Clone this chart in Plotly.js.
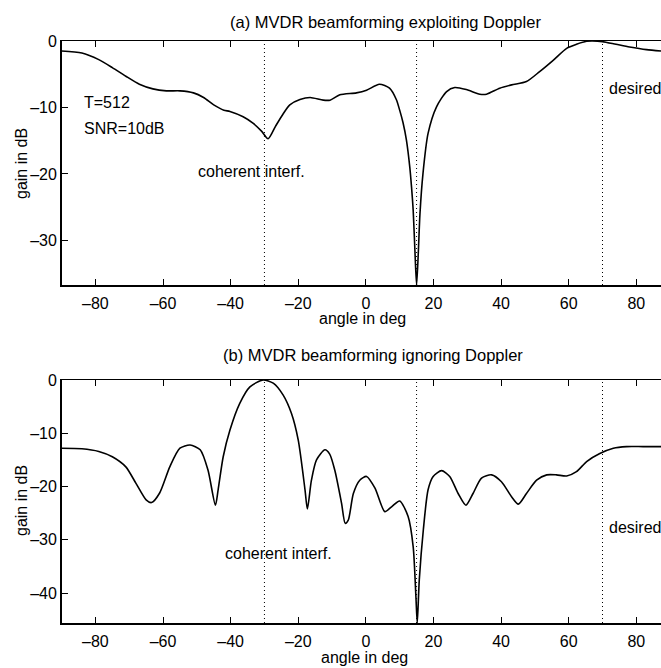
<!DOCTYPE html>
<html>
<head>
<meta charset="utf-8">
<script src="https://cdn.plot.ly/plotly-3.0.1.min.js"></script>
<style>html,body{margin:0;padding:0;background:#fff;}#chart{width:661px;height:668px;}</style>
</head>
<body>
<div id="chart"></div>
<script>
// (a) MVDR beamforming exploiting Doppler
const angleA = [-90,-84,-79,-75,-71,-67,-63,-59,-55,-51,-48,-45,-42,-40.2,-36.3,-33.3,-30.8,-28.9,-26.7,-24.4,-22.5,-19.5,-16.5,-12.6,-10.6,-7.7,-2.8,0.2,4,7,9,10,11,12,13,13.5,14,14.5,15,15.5,16,16.9,18.4,20.9,23.9,26.3,29.7,33.7,35.7,39.6,43.1,47.5,51.4,55.4,59.4,62.3,65.3,67,70,74,78,83,87.3];
const gainA = [-1.5,-1.8,-2.8,-4.0,-5.3,-6.5,-7.2,-7.5,-7.5,-7.8,-8.5,-9.6,-10.4,-10.6,-11.4,-12.4,-13.6,-14.7,-12.8,-10.9,-9.6,-8.8,-8.5,-8.9,-8.9,-8.1,-7.8,-7.4,-6.5,-7.1,-8.8,-10.4,-12.3,-14.9,-19.0,-21.9,-25.5,-31.4,-36.7,-32.0,-26.0,-19.9,-13.9,-9.9,-7.6,-7.0,-7.3,-8.0,-8.0,-7.1,-6.6,-6.1,-4.6,-2.9,-1.1,-0.5,-0.05,0,-0.1,-0.5,-0.9,-1.3,-1.5];

// (b) MVDR beamforming ignoring Doppler
const angleB = [-90,-84,-79,-75,-71,-68,-65,-63.4,-61,-58,-55,-52,-49,-46.7,-44.5,-43.7,-42.2,-40.2,-37.3,-34.3,-30.4,-27.4,-24.5,-22,-20,-18,-17.3,-16.1,-14.6,-12.1,-10.7,-9.2,-7.2,-6.1,-5.2,-3.7,-1.8,0.2,2.7,5.6,7.6,10,12.5,14,14.8,15.2,15.8,17,18.4,19.9,22.4,24.8,27.3,29.6,31.7,34.2,37.2,40.1,43.1,45.1,47.5,50.5,53.5,56.4,59.4,62.3,65.3,69.2,73.2,77.1,82,87.3];
const gainB = [-12.8,-12.9,-13.4,-14.4,-16.3,-19.4,-22.5,-23.0,-21.2,-16.3,-12.8,-12.2,-13.1,-16.9,-23.5,-20.6,-14.4,-9.4,-4.4,-1.3,0,-0.6,-2.8,-6.3,-11.3,-20.6,-24.2,-18.8,-15.0,-13.1,-13.9,-16.9,-23.1,-26.9,-26.3,-21.3,-18.8,-18.1,-20.3,-24.7,-23.8,-22.7,-25.6,-31.3,-40.6,-45.6,-37.5,-28.1,-20.6,-18.1,-17.0,-18.1,-21.3,-23.5,-21.3,-18.4,-17.8,-19.1,-21.9,-23.3,-21.3,-18.8,-17.8,-17.8,-18.0,-17.2,-15.3,-13.8,-12.8,-12.5,-12.5,-12.5];

// reference directions (dotted lines)
const markAngles = [-30, 15, 70];
const xTicks = [-80,-60,-40,-20,0,20,40,60,80];
const yTicksA = [-30,-20,-10,0];
const yTicksB = [-40,-30,-20,-10,0];
const titleA = "(a) MVDR beamforming exploiting Doppler";
const titleB = "(b) MVDR beamforming ignoring Doppler";
const xTitle = "angle in deg";
const yTitle = "gain in dB";

const FONT = "Liberation Sans, Arial, Helvetica, sans-serif";
const W = 661, H = 668;
const xDom = [61.6 / W, 1];
const yDomA = [1 - 285 / H, 1 - 41 / H];
const yDomB = [1 - 623 / H, 1 - 380 / H];

const lineStyle = {color: "#000", width: 1.6, shape: "spline", smoothing: 0.7};
const traces = [
  {x: angleA, y: gainA, xaxis: "x", yaxis: "y", mode: "lines", line: lineStyle, showlegend: false, hoverinfo: "skip"},
  {x: angleB, y: gainB, xaxis: "x2", yaxis: "y2", mode: "lines", line: lineStyle, showlegend: false, hoverinfo: "skip"}
];

const dash = v => v < 0 ? "\u2013" + Math.abs(v) : String(v);
function xAxis(anchor) {
  return {
    domain: xDom, anchor: anchor, range: [-90, 87.3],
    tickmode: "array", tickvals: xTicks, ticktext: xTicks.map(dash),
    ticks: "inside", ticklen: 6, tickwidth: 1, tickcolor: "#000",
    showline: true, linecolor: "#000", linewidth: 1.5, mirror: "ticks",
    showgrid: false, zeroline: false, ticklabelstandoff: 3,
    tickfont: {family: FONT, size: 16, color: "#000"}
  };
}
function yAxis(anchor, dom, range, ticks) {
  return {
    domain: dom, anchor: anchor, range: range,
    tickmode: "array", tickvals: ticks, ticktext: ticks.map(dash),
    ticks: "inside", ticklen: 6, tickwidth: 1, tickcolor: "#000",
    showline: true, linecolor: "#000", linewidth: 1.5, mirror: false,
    showgrid: false, zeroline: false, ticklabelstandoff: 0,
    tickfont: {family: FONT, size: 16, color: "#000"}
  };
}

const shapes = [];
[["x", "y"], ["x2", "y2"]].forEach(([xr, yr]) => {
  markAngles.forEach(a => shapes.push({
    type: "line", xref: xr, yref: yr + " domain", x0: a, x1: a, y0: 0, y1: 1,
    line: {color: "#000", width: 1, dash: "1px,3px"}
  }));
});

const annFont = {family: FONT, size: 16, color: "#000"};
const ttlFont = {family: FONT, size: 16.5, color: "#000"};
const P = (t, px, py, extra) => Object.assign({xref: "paper", yref: "paper", x: px / W, y: 1 - py / H, text: t, showarrow: false, font: annFont, xanchor: "center", yanchor: "middle"}, extra || {});
const annotations = [
  P(titleA, 385, 22, {font: ttlFont}),
  P(titleB, 373, 355, {font: ttlFont}),
  P(xTitle, 362, 318),
  P(xTitle, 365, 657),
  P(yTitle, 21, 164, {textangle: -90}),
  P(yTitle, 21, 501, {textangle: -90}),
  {xref: "x", yref: "y", x: -84, y: -9.2, text: "T=512", showarrow: false, font: annFont, xanchor: "left", yanchor: "middle"},
  {xref: "x", yref: "y", x: -84, y: -13.1, text: "SNR=10dB", showarrow: false, font: annFont, xanchor: "left", yanchor: "middle"},
  {xref: "x", yref: "y", x: -33.9, y: -19.7, text: "coherent interf.", showarrow: false, font: annFont, xanchor: "center", yanchor: "middle"},
  {xref: "x", yref: "y", x: 71.3, y: -7.1, text: "desired", showarrow: false, font: annFont, xanchor: "left", yanchor: "middle"},
  {xref: "x2", yref: "y2", x: -25.7, y: -32.6, text: "coherent interf.", showarrow: false, font: annFont, xanchor: "center", yanchor: "middle"},
  {xref: "x2", yref: "y2", x: 71.3, y: -27.6, text: "desired", showarrow: false, font: annFont, xanchor: "left", yanchor: "middle"}
];

const layout = {
  width: W, height: H,
  margin: {l: 0, r: 0, t: 0, b: 0},
  paper_bgcolor: "#fff", plot_bgcolor: "#fff",
  font: {family: FONT, color: "#000"},
  xaxis: xAxis("y"),
  yaxis: yAxis("x", yDomA, [-36.7, 0], yTicksA),
  xaxis2: xAxis("y2"),
  yaxis2: yAxis("x2", yDomB, [-45.6, 0], yTicksB),
  shapes: shapes,
  annotations: annotations
};

Plotly.newPlot("chart", traces, layout, {displayModeBar: false, staticPlot: true});
</script>
</body>
</html>
